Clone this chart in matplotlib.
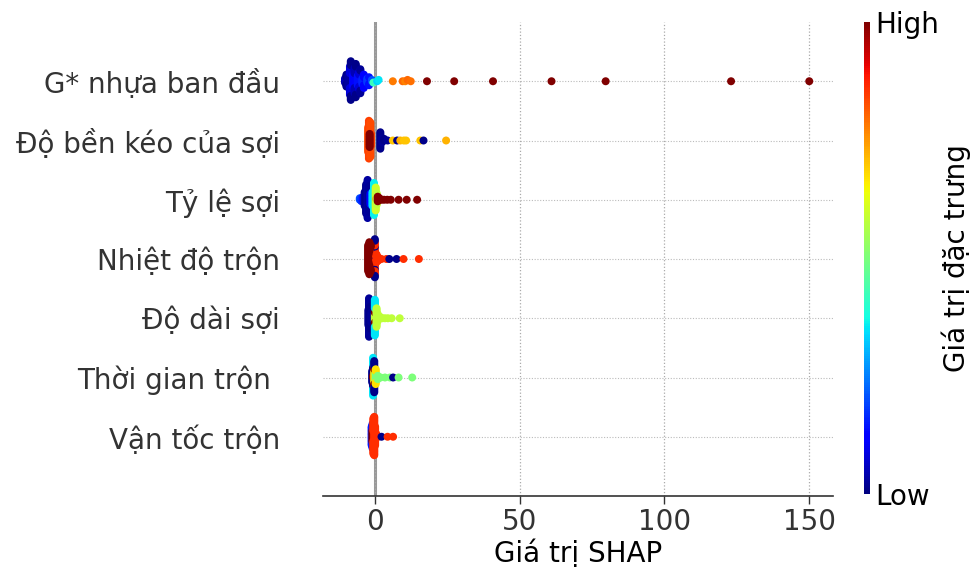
import numpy as np
import matplotlib
matplotlib.use("Agg")
import matplotlib.pyplot as plt
from matplotlib.cm import ScalarMappable
from matplotlib.colors import Normalize

plt.rcParams["font.family"] = ["DejaVu Sans"]

# rows from top to bottom
features = ["G* nhựa ban đầu", "Độ bền kéo của sợi", "Tỷ lệ sợi", "Nhiệt độ trộn",
            "Độ dài sợi", "Thời gian trộn ", "Vận tốc trộn"]

# per row: SHAP value, feature value (0 = low, 1 = high), number of samples there
g_shap = [-10.3, -9.8, -9.1, -8.6, -8.3, -7.5, -7.0, -6.6, -5.9, -5.4, -5.0, -4.3, -3.8,
          -2.6, -2.0, -1.0, -0.5, 0.8, 1.3, 6.2, 9.6, 10.5, 11.3, 12.4, 18.0, 27.4, 40.8,
          61.0, 79.7, 123.0, 150.0]
g_feat = [0.05, 0.01, 0.03, 0.08, 0.01, 0.12, 0.05, 0.01, 0.14, 0.08, 0.02, 0.16, 0.12,
          0.18, 0.14, 0.2, 0.42, 0.33, 0.35, 0.78, 0.8, 0.77, 0.8, 0.79, 1.0, 1.0, 1.0,
          1.0, 1.0, 1.0, 1.0]
g_count = [4, 6, 10, 12, 8, 10, 10, 6, 8, 6, 5, 5, 6, 4, 3, 2, 1, 1, 1,
           1, 1, 1, 1, 1, 1, 1, 1, 1, 1, 1, 1]

b_shap = [-2.3, -2.05, -1.55, -1.3, -1.8, 1.9, 2.5, 3.2, 4.4,
          6.2, 7.7, 8.8, 10.0, 10.8, 15.7, 16.8, 24.6]
b_feat = [0.83, 0.84, 0.83, 0.84, 1.0, 0.01, 0.02, 0.01, 0.02,
          0.7, 0.01, 0.72, 0.7, 0.7, 0.7, 0.01, 0.72]
b_count = [16, 24, 22, 8, 9, 11, 3, 2, 1, 1, 1, 1, 1, 1, 1, 1, 1]

t_shap = [-5.2, -4.6, -4.0, -3.5, -3.0, -2.5, -2.0, -1.5, -0.8, -0.3, 0.3, 0.6, 0.7,
          1.0, 1.6, 2.3, 3.2, 4.3, 5.5, 8.2, 11.0, 14.6]
t_feat = [0.2, 0.17, 0.14, 0.02, 0.01, 0.03, 0.02, 0.12, 0.35, 0.36, 0.6, 0.8, 0.58,
          1.0, 1.0, 1.0, 1.0, 1.0, 1.0, 1.0, 1.0, 1.0]
t_count = [2, 3, 4, 10, 20, 26, 18, 8, 10, 22, 16, 2, 8, 4, 2, 1, 1, 1, 1, 1, 1, 1]

n_shap = [-1.9, -1.4, -0.9, -0.4, 0.0, 0.0, 0.0, 0.0, 0.0, 0.0, 0.0, 0.0,
          -2.3, -1.9, -1.4, 0.6, 1.2, 2.3, 4.0, 5.0, 7.5, 9.9, 15.2]
n_feat = [0.86, 0.86, 0.86, 0.86, 0.86, 0.01, 0.86, 0.01, 0.86, 0.01, 0.86, 0.01,
          1.0, 1.0, 1.0, 0.86, 0.86, 0.86, 0.86, 0.01, 0.01, 0.86, 0.86]
n_count = [6, 14, 16, 12, 2, 2, 4, 2, 4, 2, 6, 4,
           18, 16, 4, 6, 3, 1, 1, 1, 1, 1, 1]

d_shap = [-2.2, -2.0, -1.7, -1.2, 0.0, 0.0, 0.0, 0.6, 1.0, 1.8, 2.6, 3.5, 4.5, 5.8, 8.6]
d_feat = [0.01, 0.02, 0.01, 0.02, 0.58, 1.0, 0.35, 0.58, 0.58, 0.58, 0.58, 0.58, 0.58, 0.58, 0.58]
d_count = [12, 28, 16, 8, 6, 6, 14, 14, 6, 2, 1, 1, 1, 1, 1]

m_shap = [-0.9, -0.6, -0.6, -0.6, -0.2, -0.2, -0.2, 0.3, 0.3, 1.0, 2.0, 3.5, 5.2, 6.3, 8.2, 12.9]
m_feat = [0.01, 1.0, 0.01, 0.35, 0.67, 1.0, 0.01, 0.5, 0.67, 0.5, 0.5, 0.5, 0.5, 0.01, 0.5, 0.5]
m_count = [8, 4, 10, 10, 8, 4, 8, 6, 4, 3, 1, 1, 1, 1, 1, 1]

v_shap = [-1.1, -0.8, -0.8, -0.5, -0.5, -0.2, 0.1, 0.5, 2.3, 4.4, 6.3]
v_feat = [0.15, 1.0, 0.15, 1.0, 0.86, 0.86, 0.86, 0.86, 0.01, 0.86, 0.86]
v_count = [14, 10, 8, 6, 20, 28, 14, 4, 1, 1, 1]

rows = [(g_shap, g_feat, g_count), (b_shap, b_feat, b_count), (t_shap, t_feat, t_count),
        (n_shap, n_feat, n_count), (d_shap, d_feat, d_count), (m_shap, m_feat, m_count),
        (v_shap, v_feat, v_count)]


def swarm(shaps, row_height=0.4, nbins=100):
    # same binning/stacking as shap's beeswarm
    quant = np.round(nbins * (shaps - shaps.min()) / (shaps.max() - shaps.min() + 1e-8))
    ys = np.zeros(len(shaps))
    layer, last = 0, -1
    for i in np.argsort(quant, kind="stable"):
        if quant[i] != last:
            layer = 0
        ys[i] = np.ceil(layer / 2) * ((layer % 2) * 2 - 1)
        layer += 1
        last = quant[i]
    return ys * 0.9 * (row_height / np.max(ys + 1))


W, H = 972, 574
fig = plt.figure(figsize=(9.72, 5.74), dpi=100)
ax = fig.add_axes([323 / W, 1 - 496 / H, 510 / W, 474 / H])

n = len(features)
ax.axvline(0, color="#999999", lw=2.2, zorder=-1)
for pos in range(n):
    ax.axhline(pos, color="#bbbbbb", lw=0.8, ls=(0, (1, 1.5)), zorder=-1)
ax.grid(axis="x", color="#aaaaaa", ls=":", lw=0.9)
ax.set_axisbelow(True)

for k, (s, f, c) in enumerate(rows):
    shaps = np.repeat(np.array(s, float), c)
    vals = np.repeat(np.array(f, float), c)
    pos = n - 1 - k
    ax.scatter(shaps, pos + swarm(shaps), c=vals, cmap="jet", vmin=0, vmax=1,
               s=33, linewidth=0, zorder=3)

ax.set_xlim(-17.9, 158.2)
ax.set_ylim(-1, n)
ax.set_xticks([0, 50, 100, 150])
ax.set_yticks(range(n))
ax.set_yticklabels(features[::-1])
for side in ["top", "right", "left"]:
    ax.spines[side].set_visible(False)
ax.spines["bottom"].set_color("#333333")
ax.spines["bottom"].set_linewidth(1.2)
ax.tick_params(axis="y", length=0, pad=31, labelsize=20, labelcolor="#333333")
ax.tick_params(axis="x", length=6, width=1, color="#333333", labelsize=20,
               labelcolor="#333333", pad=3)
ax.set_xlabel("Giá trị SHAP", fontsize=20, labelpad=2)

cax = fig.add_axes([864 / W, 1 - 494 / H, 6 / W, 472 / H])
sm = ScalarMappable(norm=Normalize(0, 1), cmap="jet")
cb = fig.colorbar(sm, cax=cax, ticks=[0, 1])
cb.set_ticklabels(["Low", "High"])
cb.ax.tick_params(labelsize=20, length=0, pad=4)
cb.outline.set_visible(False)
cb.set_label("Giá trị đặc trưng", size=20, labelpad=1.5)

fig.savefig("out.png", dpi=100)
